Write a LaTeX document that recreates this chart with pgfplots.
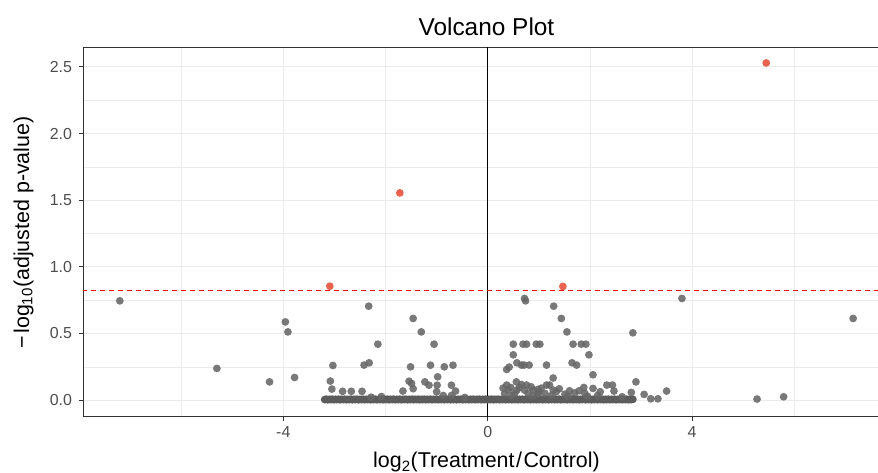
\documentclass[border=0pt]{standalone}
\usepackage{pgfplots}
\pgfplotsset{compat=1.18}
\usepackage{fontspec}
\setmainfont{Liberation Sans}
\definecolor{ptgray}{RGB}{102,102,102}
\definecolor{bandgray}{RGB}{92,92,92}
\definecolor{ptred}{RGB}{234,98,80}
\definecolor{gridc}{RGB}{235,235,235}
\definecolor{bordc}{RGB}{51,51,51}
\definecolor{tickc}{RGB}{77,77,77}
\begin{document}
\begin{tikzpicture}[x=1bp,y=1bp]
\useasboundingbox (0,0) rectangle (878,473);
\begin{axis}[
  at={(83bp,56bp)}, anchor=south west,
  scale only axis, width=806.9bp, height=369.5bp,
  xmin=-7.92, xmax=7.87, ymin=-0.1265, ymax=2.646,
  xtick={-4,0,4}, xticklabels={-4,0,4},
  ytick={0,0.5,1,1.5,2,2.5}, yticklabels={0.0,0.5,1.0,1.5,2.0,2.5},
  minor xtick={-6,-2,2,6}, minor ytick={0.25,0.75,1.25,1.75,2.25},
  grid=both,
  major grid style={gridc, line width=1.1bp},
  minor grid style={gridc, line width=0.55bp},
  tick align=outside, major tick length=4.5bp, minor tick length=0pt,
  xtick pos=lower, ytick pos=left,
  tick style={bordc, line width=1bp},
  axis line style={bordc, line width=1bp},
  tick label style={font=\fontsize{16}{18}\selectfont, text=tickc},
  xticklabel style={anchor=base, yshift=-16bp},
  yticklabel style={anchor=east, xshift=-3bp},
  label style={font=\fontsize{21.5}{24}\selectfont},
  xlabel={log\textsubscript{2}(Treatment\kern1.5bp/\kern1.5bp Control)},
  ylabel={−\kern2bp log\textsubscript{10}(adjusted p-value)},
  xlabel style={at={(axis description cs:0.5,0)}, anchor=base, yshift=-51bp},
  ylabel style={at={(axis description cs:-0.0669,0.5)}, anchor=base},
  title={Volcano Plot},
  title style={font=\fontsize{24.5}{27}\selectfont, at={(axis description cs:0.5,1)}, anchor=base, yshift=6.5bp},
]
% dense band of non-significant genes near zero
\addplot[bandgray, only marks, mark=*, mark size=3.9bp, mark options={fill=bandgray, draw opacity=0}] coordinates {
(-3.19,0.004) (-3.16,0.007) (-3.13,0.003) (-3.10,0.006) (-3.07,0.004) (-3.04,0.007) (-3.01,0.003) (-2.98,0.006)
(-2.95,0.004) (-2.92,0.007) (-2.89,0.003) (-2.86,0.006) (-2.83,0.004) (-2.80,0.007) (-2.77,0.003) (-2.74,0.006)
(-2.71,0.004) (-2.68,0.007) (-2.65,0.003) (-2.62,0.006) (-2.59,0.004) (-2.56,0.007) (-2.53,0.003) (-2.50,0.006)
(-2.47,0.004) (-2.44,0.007) (-2.41,0.003) (-2.38,0.006) (-2.35,0.004) (-2.32,0.007) (-2.29,0.003) (-2.26,0.006)
(-2.23,0.004) (-2.20,0.007) (-2.17,0.003) (-2.14,0.006) (-2.11,0.004) (-2.08,0.007) (-2.05,0.003) (-2.02,0.006)
(-1.99,0.004) (-1.96,0.007) (-1.93,0.003) (-1.90,0.006) (-1.87,0.004) (-1.84,0.007) (-1.81,0.003) (-1.78,0.006)
(-1.75,0.004) (-1.72,0.007) (-1.69,0.003) (-1.66,0.006) (-1.63,0.004) (-1.60,0.007) (-1.57,0.003) (-1.54,0.006)
(-1.51,0.004) (-1.48,0.007) (-1.45,0.003) (-1.42,0.006) (-1.39,0.004) (-1.36,0.007) (-1.33,0.003) (-1.30,0.006)
(-1.27,0.004) (-1.24,0.007) (-1.21,0.003) (-1.18,0.006) (-1.15,0.004) (-1.12,0.007) (-1.09,0.003) (-1.06,0.006)
(-1.03,0.004) (-1.00,0.007) (-0.97,0.003) (-0.94,0.006) (-0.91,0.004) (-0.88,0.007) (-0.85,0.003) (-0.82,0.006)
(-0.79,0.004) (-0.76,0.007) (-0.73,0.003) (-0.70,0.006) (-0.67,0.004) (-0.64,0.007) (-0.61,0.003) (-0.58,0.006)
(-0.55,0.004) (-0.52,0.007) (-0.49,0.003) (-0.46,0.006) (-0.43,0.004) (-0.40,0.007) (-0.37,0.003) (-0.34,0.006)
(-0.31,0.004) (-0.28,0.007) (-0.25,0.003) (-0.22,0.006) (-0.19,0.004) (-0.16,0.007) (-0.13,0.003) (-0.10,0.006)
(-0.07,0.004) (-0.04,0.007) (-0.01,0.003) (0.02,0.006) (0.05,0.004) (0.08,0.007) (0.11,0.003) (0.14,0.006)
(0.17,0.004) (0.20,0.007) (0.23,0.003) (0.26,0.006) (0.29,0.004) (0.32,0.007) (0.35,0.003) (0.38,0.006)
(0.41,0.004) (0.44,0.007) (0.47,0.003) (0.50,0.006) (0.53,0.004) (0.56,0.007) (0.59,0.003) (0.62,0.006)
(0.65,0.004) (0.68,0.007) (0.71,0.003) (0.74,0.006) (0.77,0.004) (0.80,0.007) (0.83,0.003) (0.86,0.006)
(0.89,0.004) (0.92,0.007) (0.95,0.003) (0.98,0.006) (1.01,0.004) (1.04,0.007) (1.07,0.003) (1.10,0.006)
(1.13,0.004) (1.16,0.007) (1.19,0.003) (1.22,0.006) (1.25,0.004) (1.28,0.007) (1.31,0.003) (1.34,0.006)
(1.37,0.004) (1.40,0.007) (1.43,0.003) (1.46,0.006) (1.49,0.004) (1.52,0.007) (1.55,0.003) (1.58,0.006)
(1.61,0.004) (1.64,0.007) (1.67,0.003) (1.70,0.006) (1.73,0.004) (1.76,0.007) (1.79,0.003) (1.82,0.006)
(1.85,0.004) (1.88,0.007) (1.91,0.003) (1.94,0.006) (1.97,0.004) (2.00,0.007) (2.03,0.003) (2.06,0.006)
(2.09,0.004) (2.12,0.007) (2.15,0.003) (2.18,0.006) (2.21,0.004) (2.24,0.007) (2.27,0.003) (2.30,0.006)
(2.33,0.004) (2.36,0.007) (2.39,0.003) (2.42,0.006) (2.45,0.004) (2.48,0.007) (2.51,0.003) (2.54,0.006)
(2.57,0.004) (2.60,0.007) (2.63,0.003) (2.66,0.006) (2.69,0.004) (2.72,0.007) (2.75,0.003) (2.78,0.006)
(2.81,0.004) (2.84,0.006)
};
% other non-significant genes
\addplot[ptgray, only marks, mark=*, mark size=3.9bp, mark options={fill=ptgray, fill opacity=0.88, draw opacity=0}] coordinates {
(-7.20,0.745) (-5.30,0.238) (-4.27,0.137) (-3.96,0.587) (-3.91,0.512) (-3.78,0.170)
(-3.03,0.260) (-3.08,0.143) (-3.05,0.083) (-2.84,0.066) (-2.67,0.066) (-2.46,0.066)
(-2.33,0.705) (-2.15,0.420) (-2.42,0.263) (-2.32,0.280) (-2.28,0.022) (-2.08,0.027)
(-1.46,0.613) (-1.30,0.512) (-1.05,0.420) (-1.51,0.250) (-1.12,0.262) (-0.85,0.250)
(-0.68,0.262) (-1.66,0.068) (-1.54,0.142) (-1.49,0.125) (-1.46,0.086) (-1.23,0.137)
(-1.15,0.112) (-0.99,0.112) (-0.98,0.175) (-1.00,0.063) (-0.71,0.112) (-0.63,0.068)
(-0.87,0.035) (-0.71,0.035) (-0.45,0.020)
(0.72,0.763) (0.74,0.745) (1.29,0.705) (1.44,0.613) (1.55,0.512)
(0.50,0.420) (0.69,0.420) (0.76,0.420) (0.95,0.420) (1.02,0.420) (1.67,0.420) (1.83,0.420) (1.92,0.420)
(0.50,0.340) (1.98,0.340)
(0.37,0.230) (0.42,0.248) (0.57,0.280) (0.66,0.263) (0.71,0.263) (0.81,0.263) (1.15,0.263) (1.65,0.280) (1.74,0.263)
(1.28,0.166) (2.06,0.190) (2.90,0.137) (2.84,0.505)
(0.37,0.113) (0.56,0.137) (0.66,0.117) (0.76,0.113) (0.40,0.075) (0.57,0.075) (0.72,0.075) (0.89,0.075)
(0.98,0.080) (1.15,0.113) (1.21,0.113) (1.28,0.075) (1.34,0.063) (1.51,0.045) (1.70,0.055) (1.79,0.070)
(1.88,0.095) (1.90,0.050) (0.33,0.050) (0.53,0.050) (0.79,0.050) (0.98,0.045) (1.12,0.050)
(0.30,0.090) (0.45,0.095) (0.62,0.095) (0.85,0.100) (1.05,0.090) (1.40,0.085) (1.60,0.070) (1.00,0.060)
(0.47,0.035) (0.88,0.030) (1.25,0.035) (1.95,0.030) (2.15,0.035)
(2.06,0.088) (2.20,0.063) (2.33,0.113) (2.44,0.113) (2.47,0.068) (2.81,0.058) (2.63,0.025) (1.57,0.030)
(3.06,0.043) (3.19,0.010) (3.33,0.010) (3.50,0.068) (3.80,0.763) (5.27,0.008) (5.79,0.025) (7.15,0.613)
};
% significant genes
\addplot[ptred, only marks, mark=*, mark size=3.9bp, mark options={fill=ptred, draw opacity=0}] coordinates {
(-3.09,0.855) (-1.72,1.555) (1.47,0.853) (5.45,2.530)
};
% vertical line at 0
\addplot[black, line width=1.1bp] coordinates {(0,-0.3) (0,3)};
% threshold
\addplot[red, line width=1bp, dash pattern=on 5.5bp off 3.5bp] coordinates {(-9,0.824) (9,0.824)};
\end{axis}
\end{tikzpicture}
\end{document}
